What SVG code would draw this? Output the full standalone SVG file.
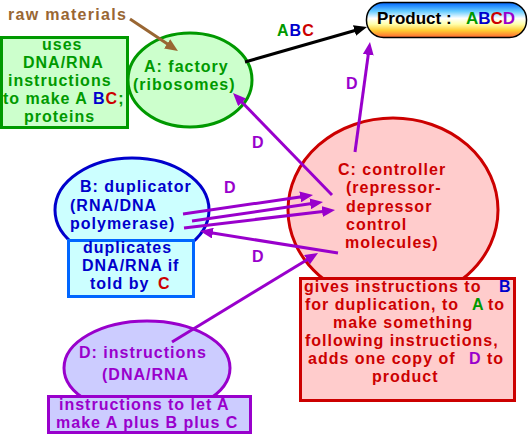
<svg xmlns="http://www.w3.org/2000/svg" width="528" height="434" viewBox="0 0 528 434">
<style>
text{font-family:"Liberation Sans",Arial,sans-serif;font-weight:bold;font-size:16px;letter-spacing:1px}
.g{fill:#009900}.b{fill:#0000cc}.r{fill:#cc0000}.p{fill:#9900cc}.br{fill:#996633}.k{fill:#000}
.arr{fill:none;stroke-width:3}
</style>
<defs>
<linearGradient id="prod" x1="0" y1="0" x2="0" y2="1">
<stop offset="0" stop-color="#0066ff"/>
<stop offset="0.25" stop-color="#66ccff"/>
<stop offset="0.45" stop-color="#ffffff"/>
<stop offset="0.62" stop-color="#ffffaa"/>
<stop offset="0.8" stop-color="#ffcc33"/>
<stop offset="1" stop-color="#ff6633"/>
</linearGradient>
<marker id="mp" markerUnits="userSpaceOnUse" markerWidth="13" markerHeight="11" viewBox="0 0 13 11" refX="5" refY="5.5" orient="auto"><path d="M0,0 L13,5.5 L0,11 z" fill="#9900cc"/></marker>
<marker id="mk" markerUnits="userSpaceOnUse" markerWidth="13" markerHeight="11" viewBox="0 0 13 11" refX="5" refY="5.5" orient="auto"><path d="M0,0 L13,5.5 L0,11 z" fill="#000"/></marker>
<marker id="mb" markerUnits="userSpaceOnUse" markerWidth="13" markerHeight="11" viewBox="0 0 13 11" refX="5" refY="5.5" orient="auto"><path d="M0,0 L13,5.5 L0,11 z" fill="#996633"/></marker>
</defs>
<rect width="528" height="434" fill="#fff"/>

<g id="raw">
<text class="br" x="8" y="20" style="letter-spacing:1.3px">raw materials</text>
</g>

<g id="usesBox">
<rect x="1.5" y="37.5" width="126" height="90" fill="#ccffcc" stroke="#009900" stroke-width="3"/>
<text class="g" x="42" y="50">uses</text>
<text class="g" x="23" y="68">DNA/RNA</text>
<text class="g" x="8" y="86">instructions</text>
<text class="g" x="3" y="104">to make A<tspan class="b" x="93">B</tspan><tspan class="r">C</tspan>;</text>
<text class="g" x="24" y="122">proteins</text>
</g>

<g id="factory">
<ellipse cx="190" cy="80" rx="62" ry="47" fill="#ccffcc" stroke="#009900" stroke-width="3"/>
<text class="g" x="144" y="72">A: factory</text>
<text class="g" x="133" y="90">(ribosomes)</text>
</g>

<g id="product">
<rect x="366.5" y="2.5" width="160" height="35" rx="17" ry="17" fill="url(#prod)" stroke="#000" stroke-width="1.5"/>
<text class="k" x="377" y="24" style="font-size:17px;letter-spacing:0">Product</text>
<text class="k" x="446" y="24" style="font-size:17px;letter-spacing:0">:</text>
<text x="466" y="24" style="font-size:17px;letter-spacing:0"><tspan class="g">A</tspan><tspan class="b">B</tspan><tspan class="r">C</tspan><tspan class="p">D</tspan></text>
</g>

<g id="controller">
<ellipse cx="393" cy="210" rx="105" ry="92" fill="#ffcccc" stroke="#cc0000" stroke-width="3"/>
<text class="r" x="338" y="175">C: controller</text>
<text class="r" x="346" y="193">(repressor-</text>
<text class="r" x="346" y="212">depressor</text>
<text class="r" x="346" y="230">control</text>
<text class="r" x="345" y="248">molecules)</text>
</g>

<g id="controllerBox">
<rect x="300.5" y="278.5" width="214" height="122" fill="#ffcccc" stroke="#cc0000" stroke-width="3"/>
<text class="r" x="304" y="292">gives instructions to<tspan class="b" x="499">B</tspan></text>
<text class="r" x="305" y="310">for duplication, to<tspan class="g" x="472">A</tspan><tspan x="488">to</tspan></text>
<text class="r" x="333" y="328">make something</text>
<text class="r" x="305" y="346">following instructions,</text>
<text class="r" x="308" y="364">adds one copy of<tspan class="p" x="469">D</tspan><tspan x="487">to</tspan></text>
<text class="r" x="372" y="382">product</text>
</g>

<g id="duplicator">
<ellipse cx="132" cy="210" rx="77" ry="52" fill="#ccffff" stroke="#0000cc" stroke-width="3"/>
<rect x="68.5" y="240.5" width="125" height="56" fill="#ccffff" stroke="#0066ff" stroke-width="3"/>
<text class="b" x="80" y="192">B: duplicator</text>
<text class="b" x="70" y="211">(RNA/DNA</text>
<text class="b" x="70" y="229">polymerase)</text>
<text class="b" x="83" y="253">duplicates</text>
<text class="b" x="82" y="271">DNA/RNA if</text>
<text class="b" x="90" y="289">told by<tspan class="r" x="158">C</tspan></text>
</g>

<g id="instructions">
<ellipse cx="147" cy="368" rx="83" ry="47" fill="#ccccff" stroke="#9900cc" stroke-width="3"/>
<rect x="48.5" y="396.5" width="202" height="36" fill="#ccccff" stroke="#9900cc" stroke-width="3"/>
<text class="p" x="79" y="358">D: instructions</text>
<text class="p" x="102" y="380">(DNA/RNA</text>
<text class="p" x="59" y="410">instructions to let A</text>
<text class="p" x="56" y="428">make A plus B plus C</text>
</g>

<g id="connectors">
<path class="arr" stroke="#996633" d="M130,19 L171.3,46.6" marker-end="url(#mb)"/>
<path class="arr" stroke="#000" d="M245,62 L359.3,29.2" marker-end="url(#mk)"/>
<path class="arr" stroke="#9900cc" d="M355,152 L368.9,49.9" marker-end="url(#mp)"/>
<path class="arr" stroke="#9900cc" d="M332,195 L238.6,98.7" marker-end="url(#mp)"/>
<path class="arr" stroke="#9900cc" d="M183,214 L305.1,196.2" marker-end="url(#mp)"/>
<path class="arr" stroke="#9900cc" d="M192,221 L315.1,203.1" marker-end="url(#mp)"/>
<path class="arr" stroke="#9900cc" d="M184,228 L327.1,210.9" marker-end="url(#mp)"/>
<path class="arr" stroke="#9900cc" d="M338,253 L207.9,232.3" marker-end="url(#mp)"/>
<path class="arr" stroke="#9900cc" d="M172,342 L311.2,257.2" marker-end="url(#mp)"/>
<text x="277" y="36"><tspan class="g">A</tspan><tspan class="b">B</tspan><tspan class="r">C</tspan></text>
<text class="p" x="346" y="89">D</text>
<text class="p" x="252" y="148">D</text>
<text class="p" x="224" y="193">D</text>
<text class="p" x="252" y="262">D</text>
</g>
</svg>
